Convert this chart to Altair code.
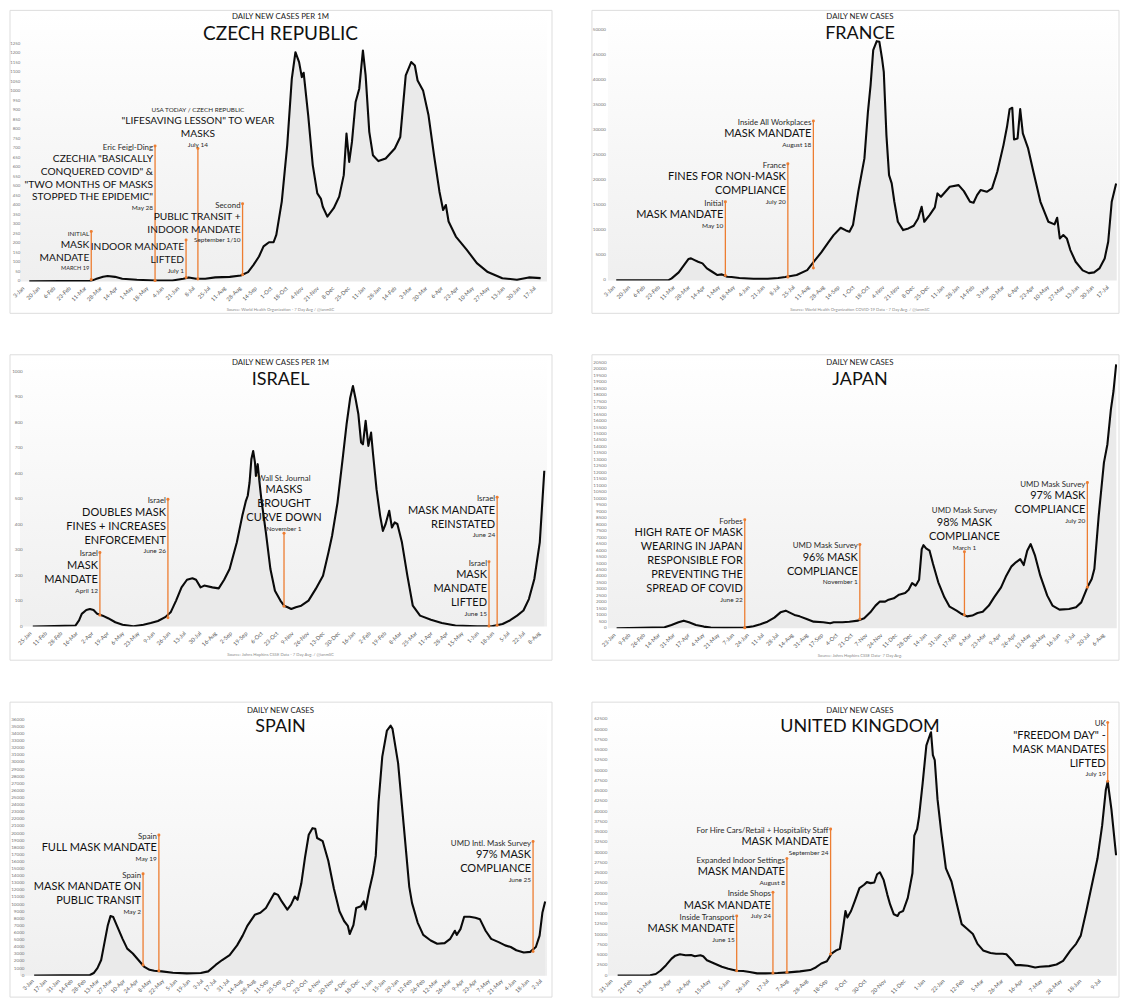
import altair as alt
import pandas as pd

# ------------------------------------------------------------------ data
# Czech Republic - daily new cases per 1M (7 day avg)
cz_dates = ["2020-01-11","2020-03-19","2020-03-24","2020-04-01","2020-04-06","2020-04-14","2020-04-22","2020-05-08","2020-05-28","2020-06-16",
            "2020-06-28","2020-07-04","2020-07-12","2020-07-22","2020-08-02","2020-08-18","2020-08-30","2020-09-07","2020-09-13","2020-09-19",
            "2020-09-24","2020-09-30","2020-10-05","2020-10-08","2020-10-14","2020-10-20","2020-10-25","2020-10-29","2020-11-02","2020-11-05",
            "2020-11-07","2020-11-12","2020-11-17","2020-11-22","2020-11-26","2020-11-28","2020-12-03","2020-12-10","2020-12-16","2020-12-21",
            "2020-12-24","2020-12-27","2020-12-30","2021-01-03","2021-01-07","2021-01-11","2021-01-14","2021-01-18","2021-01-22","2021-01-28",
            "2021-02-05","2021-02-15","2021-02-21","2021-02-27","2021-03-05","2021-03-09","2021-03-12","2021-03-18","2021-03-24","2021-03-30",
            "2021-04-05","2021-04-09","2021-04-12","2021-04-15","2021-04-23","2021-05-05","2021-05-16","2021-05-28","2021-06-13","2021-06-29",
            "2021-07-12","2021-07-25"]
cz_cases = [0,3,12,24,28,24,14,9,5,5,
            14,21,14,14,21,24,31,49,87,131,
            184,206,206,245,420,717,1066,1206,1154,1075,
            1098,874,612,463,434,393,341,385,446,559,
            778,629,734,944,1014,1215,1084,787,664,633,
            647,699,760,1084,1154,1136,1057,1005,874,664,
            472,376,402,315,236,166,96,49,17,9,
            21,17]

# France - daily new cases (7 day avg)
fr_dates = ["2020-01-07","2020-03-06","2020-03-10","2020-03-18","2020-03-24","2020-03-29","2020-04-01","2020-04-05","2020-04-09","2020-04-14",
            "2020-04-19","2020-04-25","2020-05-01","2020-05-06","2020-05-12","2020-05-17","2020-05-26","2020-06-11","2020-06-27","2020-07-09",
            "2020-07-17","2020-07-30","2020-08-11","2020-08-19","2020-08-27","2020-09-04","2020-09-10","2020-09-18","2020-09-24","2020-09-28",
            "2020-10-02","2020-10-08","2020-10-15","2020-10-19","2020-10-22","2020-10-25","2020-10-29","2020-11-01","2020-11-04","2020-11-06",
            "2020-11-09","2020-11-12","2020-11-15","2020-11-18","2020-11-22","2020-11-28","2020-12-04","2020-12-10","2020-12-15","2020-12-19",
            "2020-12-22","2020-12-28","2021-01-03","2021-01-06","2021-01-10","2021-01-20","2021-01-30","2021-02-05","2021-02-12","2021-02-16",
            "2021-02-20","2021-02-24","2021-03-03","2021-03-09","2021-03-15","2021-03-22","2021-03-26","2021-03-29","2021-04-01","2021-04-03",
            "2021-04-07","2021-04-10","2021-04-13","2021-04-19","2021-04-25","2021-05-03","2021-05-09","2021-05-12","2021-05-19","2021-05-22",
            "2021-05-25","2021-05-29","2021-06-02","2021-06-06","2021-06-12","2021-06-20","2021-06-27","2021-07-03","2021-07-09","2021-07-15",
            "2021-07-19","2021-07-23","2021-07-28"]
fr_cases = [0,0,400,1600,3060,4260,4400,4060,3730,3400,
            2400,1730,1070,1200,730,670,470,330,330,470,
            670,1070,2060,3860,5590,7590,9050,10520,9990,9720,
            11050,17710,24370,33690,39020,46010,47800,47670,44340,41680,
            29030,21040,19380,15710,11720,10050,10390,10920,12380,14710,
            11720,13050,14580,17380,16710,18710,19040,17840,15710,15510,
            17040,18040,17710,18380,21710,27030,30690,34220,34490,28160,
            28360,34220,29360,26360,21710,15710,13050,11720,11190,12520,
            8390,9050,8390,6060,3730,2000,1460,1600,2400,4390,
            7720,15710,19380]

# Israel - daily new cases per 1M (7 day avg)
il_dates = ["2020-01-29","2020-03-16","2020-03-20","2020-03-23","2020-03-28","2020-04-01","2020-04-05","2020-04-09","2020-04-15","2020-04-21",
            "2020-04-29","2020-05-07","2020-05-19","2020-05-30","2020-06-07","2020-06-15","2020-06-23","2020-06-29","2020-07-05","2020-07-11",
            "2020-07-17","2020-07-23","2020-07-27","2020-08-01","2020-08-05","2020-08-14","2020-08-21","2020-08-27","2020-09-02","2020-09-10",
            "2020-09-16","2020-09-20","2020-09-22","2020-09-24","2020-09-26","2020-09-28","2020-09-30","2020-10-01","2020-10-03","2020-10-05",
            "2020-10-07","2020-10-12","2020-10-17","2020-10-22","2020-10-28","2020-11-01","2020-11-05","2020-11-09","2020-11-14","2020-11-20",
            "2020-11-28","2020-12-06","2020-12-14","2020-12-20","2020-12-24","2020-12-30","2021-01-05","2021-01-09","2021-01-13","2021-01-16",
            "2021-01-19","2021-01-22","2021-01-25","2021-01-27","2021-01-30","2021-02-02","2021-02-05","2021-02-07","2021-02-11","2021-02-15",
            "2021-02-18","2021-02-21","2021-02-25","2021-02-28","2021-03-03","2021-03-06","2021-03-11","2021-03-17","2021-03-23","2021-03-31",
            "2021-04-12","2021-04-24","2021-05-09","2021-06-02","2021-06-18","2021-06-30","2021-07-08","2021-07-16","2021-07-23","2021-07-29",
            "2021-08-04","2021-08-10","2021-08-15"]
il_cases = [0,4,24,50,65,69,65,50,43,33,
            17,7,1,7,14,22,37,56,102,154,
            184,190,184,154,161,154,150,184,226,331,
            435,494,514,566,657,690,644,592,638,566,
            500,370,226,141,102,82,76,69,76,82,
            102,148,200,291,357,487,670,795,899,945,
            893,834,723,716,808,710,762,684,540,435,
            376,403,455,389,409,403,331,200,82,43,
            27,14,4,1,1,10,24,43,63,108,
            187,331,612]

# Japan - daily new cases (7 day avg)
jp_dates = ["2020-01-27","2020-03-22","2020-03-30","2020-04-07","2020-04-13","2020-04-19","2020-04-27","2020-05-06","2020-05-14","2020-05-30",
            "2020-06-22","2020-07-02","2020-07-10","2020-07-18","2020-07-26","2020-08-02","2020-08-08","2020-08-12","2020-08-18","2020-08-24",
            "2020-09-01","2020-09-09","2020-09-20","2020-09-28","2020-10-02","2020-10-12","2020-10-20","2020-10-30","2020-11-06","2020-11-13",
            "2020-11-19","2020-11-24","2020-11-30","2020-12-04","2020-12-10","2020-12-16","2020-12-23","2020-12-27","2020-12-31","2021-01-04",
            "2021-01-08","2021-01-11","2021-01-13","2021-01-16","2021-01-20","2021-01-24","2021-01-30","2021-02-06","2021-02-12","2021-02-20",
            "2021-02-26","2021-03-04","2021-03-10","2021-03-16","2021-03-22","2021-03-29","2021-04-04","2021-04-12","2021-04-18","2021-04-24",
            "2021-04-29","2021-05-04","2021-05-08","2021-05-12","2021-05-16","2021-05-21","2021-05-27","2021-06-04","2021-06-10","2021-06-18",
            "2021-06-29","2021-07-07","2021-07-13","2021-07-20","2021-07-25","2021-07-28","2021-08-02","2021-08-08","2021-08-12","2021-08-16",
            "2021-08-19","2021-08-22"]
jp_cases = [0,80,260,460,590,460,260,130,50,30,
            50,150,310,510,820,1230,1360,1230,1030,920,
            720,510,460,390,460,460,510,590,770,1230,
            1750,2060,2060,2210,2310,2590,2720,2980,3490,3290,
            3750,6110,6420,6170,5990,4960,3550,2390,1670,1360,
            1100,920,980,1180,1280,1750,2390,3160,4060,4780,
            5090,5340,4880,5990,6500,5600,4060,2520,1750,1440,
            1490,1620,2000,3160,3800,4570,8680,12790,14210,16900,
            18320,20370]

# Spain - daily new cases (7 day avg)
es_dates = ["2020-01-06","2020-03-06","2020-03-10","2020-03-14","2020-03-18","2020-03-21","2020-03-25","2020-03-28","2020-03-31","2020-04-04",
            "2020-04-10","2020-04-15","2020-04-21","2020-04-27","2020-05-03","2020-05-09","2020-05-14","2020-05-22","2020-06-03","2020-06-18",
            "2020-07-03","2020-07-11","2020-07-19","2020-07-26","2020-08-03","2020-08-11","2020-08-17","2020-08-22","2020-08-30","2020-09-05",
            "2020-09-11","2020-09-16","2020-09-20","2020-09-24","2020-09-28","2020-10-04","2020-10-08","2020-10-12","2020-10-15","2020-10-19",
            "2020-10-23","2020-10-27","2020-10-31","2020-11-03","2020-11-05","2020-11-11","2020-11-17","2020-11-23","2020-11-29","2020-12-04",
            "2020-12-08","2020-12-10","2020-12-14","2020-12-17","2020-12-22","2020-12-25","2020-12-27","2020-12-31","2021-01-04","2021-01-07",
            "2021-01-10","2021-01-14","2021-01-19","2021-01-23","2021-01-25","2021-01-31","2021-02-06","2021-02-12","2021-02-15","2021-02-21",
            "2021-02-27","2021-03-07","2021-03-14","2021-03-22","2021-03-28","2021-04-02","2021-04-04","2021-04-08","2021-04-12","2021-04-18",
            "2021-04-24","2021-04-29","2021-05-05","2021-05-11","2021-05-19","2021-05-26","2021-06-01","2021-06-07","2021-06-15","2021-06-22",
            "2021-06-28","2021-07-02","2021-07-05","2021-07-08"]
es_cases = [0,90,370,1050,2200,4260,7010,8380,8240,7010,
            5180,3800,3110,2200,1280,820,690,600,410,320,
            370,600,1510,2200,2890,4260,5630,7010,8560,8840,
            9530,10670,11590,11360,10440,9300,9990,11130,10670,12960,
            16630,19830,20750,20660,19370,18920,16170,12270,9070,7690,
            7010,5860,7100,9530,9760,10440,9300,12050,14340,16850,
            24410,30820,34490,35170,34720,29910,21210,12500,10210,7470,
            5730,4950,4490,4580,5180,6320,5730,6550,8290,8290,
            8150,7920,6320,5180,4720,4260,4030,3570,3250,3340,
            4030,5630,8840,10440]

# United Kingdom - daily new cases (7 day avg)
uk_dates = ["2020-02-08","2020-03-14","2020-03-20","2020-03-25","2020-03-31","2020-04-06","2020-04-10","2020-04-15","2020-04-21","2020-04-27",
            "2020-05-01","2020-05-07","2020-05-10","2020-05-14","2020-05-22","2020-05-30","2020-06-06","2020-06-15","2020-06-22","2020-06-29",
            "2020-07-07","2020-07-16","2020-07-29","2020-08-10","2020-08-22","2020-09-02","2020-09-08","2020-09-14","2020-09-20","2020-09-25",
            "2020-09-30","2020-10-04","2020-10-07","2020-10-10","2020-10-12","2020-10-16","2020-10-20","2020-10-25","2020-10-30","2020-11-02",
            "2020-11-06","2020-11-10","2020-11-13","2020-11-16","2020-11-20","2020-11-24","2020-11-27","2020-12-01","2020-12-05","2020-12-07",
            "2020-12-11","2020-12-16","2020-12-21","2020-12-23","2020-12-26","2020-12-28","2021-01-01","2021-01-05","2021-01-09","2021-01-10",
            "2021-01-12","2021-01-14","2021-01-17","2021-01-21","2021-01-26","2021-02-01","2021-02-06","2021-02-12","2021-02-18","2021-02-24",
            "2021-03-01","2021-03-07","2021-03-15","2021-03-21","2021-03-28","2021-04-01","2021-04-07","2021-04-11","2021-04-16","2021-04-24",
            "2021-05-02","2021-05-07","2021-05-17","2021-05-25","2021-06-01","2021-06-09","2021-06-15","2021-06-20","2021-06-26","2021-07-02",
            "2021-07-08","2021-07-13","2021-07-17","2021-07-19","2021-07-23","2021-07-28"]
uk_cases = [0,80,400,1200,2560,4160,4880,5200,4960,5040,
            4720,4960,4720,3760,2960,2160,1680,1200,1120,880,
            560,560,640,800,1040,1360,2000,2960,3520,5360,
            6160,6560,10960,15770,14170,15770,18170,21370,22170,22810,
            22570,22730,24730,25210,23370,19770,17370,14970,14570,15370,
            15770,18970,24970,34170,35770,38570,46980,56180,58820,59380,
            53780,52580,42980,34970,26170,22970,18170,12560,11360,10160,
            7760,6160,5520,5360,5360,5200,3760,2560,2560,2400,
            2000,2160,2320,2720,3600,6160,7760,9760,15770,22170,
            28570,36570,45380,47380,40580,29370]

# ------------------------------------------------------------ annotations
cz_ann_dates = ["2020-03-19", "2020-05-28", "2020-07-01", "2020-07-14", "2020-09-01"]
cz_ann_base = [10, 5, 20, 12, 35]
cz_ann_top = [262, 713, 218, 699, 409]
cz_ann_source = ["INITIAL", "Eric Feigl-Ding", "", "USA TODAY / CZECH REPUBLIC", "Second"]
cz_ann_text = [["MASK", "MANDATE"],
               ['CZECHIA "BASICALLY', 'CONQUERED COVID" &', '"TWO MONTHS OF MASKS', 'STOPPED THE EPIDEMIC"'],
               ["INDOOR MANDATE", "LIFTED"],
               ['"LIFESAVING LESSON" TO WEAR', "MASKS"],
               ["PUBLIC TRANSIT +", "INDOOR MANDATE"]]
cz_ann_note = ["MARCH 19", "May 28", "July 1", "July 14", "September 1/10"]
cz_ann_align = ["right", "right", "right", "center", "right"]

fr_ann_dates = ["2020-05-10", "2020-07-20", "2020-08-18"]
fr_ann_base = [1000, 700, 2500]
fr_ann_top = [15710, 23300, 31830]
fr_ann_source = ["Initial", "France", "Inside All Workplaces"]
fr_ann_text = [["MASK MANDATE"], ["FINES FOR NON-MASK", "COMPLIANCE"], ["MASK MANDATE"]]
fr_ann_note = ["May 10", "July 20", "August 18"]
fr_ann_align = ["right", "right", "right"]

il_ann_dates = ["2020-04-12", "2020-06-26", "2020-11-01", "2021-06-15", "2021-06-24"]
il_ann_base = [45, 35, 80, 2, 5]
il_ann_top = [291, 500, 367, 255, 508]
il_ann_source = ["Israel", "Israel", "Wall St. Journal", "Israel", "Israel"]
il_ann_text = [["MASK", "MANDATE"],
               ["DOUBLES MASK", "FINES + INCREASES", "ENFORCEMENT"],
               ["MASKS", "BROUGHT", "CURVE DOWN"],
               ["MASK", "MANDATE", "LIFTED"],
               ["MASK MANDATE", "REINSTATED"]]
il_ann_note = ["April 12", "June 26", "November 1", "June 15", "June 24"]
il_ann_align = ["right", "right", "center", "right", "right"]

jp_ann_dates = ["2020-06-22", "2020-11-01", "2021-03-01", "2021-07-20"]
jp_ann_base = [50, 720, 1030, 3160]
jp_ann_top = [8380, 6470, 5910, 11250]
jp_ann_source = ["Forbes", "UMD Mask Survey", "UMD Mask Survey", "UMD Mask Survey"]
jp_ann_text = [["HIGH RATE OF MASK", "WEARING IN JAPAN", "RESPONSIBLE FOR", "PREVENTING THE", "SPREAD OF COVID"],
               ["96% MASK", "COMPLIANCE"],
               ["98% MASK", "COMPLIANCE"],
               ["97% MASK", "COMPLIANCE"]]
jp_ann_note = ["June 22", "November 1", "March 1", "July 20"]
jp_ann_align = ["right", "right", "center", "right"]

es_ann_dates = ["2020-05-02", "2020-05-19", "2021-06-25"]
es_ann_base = [1500, 700, 3400]
es_ann_top = [14340, 19790, 18870]
es_ann_source = ["Spain", "Spain", "UMD Intl. Mask Survey"]
es_ann_text = [["MASK MANDATE ON", "PUBLIC TRANSIT"], ["FULL MASK MANDATE"], ["97% MASK", "COMPLIANCE"]]
es_ann_note = ["May 2", "May 19", "June 25"]
es_ann_align = ["right", "right", "right"]

uk_ann_dates = ["2020-06-15", "2020-07-24", "2020-08-08", "2020-09-24", "2021-07-19"]
uk_ann_base = [1200, 640, 800, 5300, 47400]
uk_ann_top = [14570, 20330, 28570, 35770, 61780]
uk_ann_source = ["Inside Transport", "Inside Shops", "Expanded Indoor Settings",
                 "For Hire Cars/Retail + Hospitality Staff", "UK"]
uk_ann_text = [["MASK MANDATE"], ["MASK MANDATE"], ["MASK MANDATE"], ["MASK MANDATE"],
               ['"FREEDOM DAY" -', "MASK MANDATES", "LIFTED"]]
uk_ann_note = ["June 15", "July 24", "August 8", "September 24", "July 19"]
uk_ann_align = ["right", "right", "right", "right", "right"]

# ------------------------------------------------------------ panel setup
panels = {
    "cz": dict(sub="DAILY NEW CASES PER 1M", title="CZECH REPUBLIC",
               source="Source: World Health Organization - 7 Day Avg / @ianmSC",
               dates=cz_dates, vals=cz_cases, t0="2020-01-03", step=17, nticks=34, ymax=1250, ystep=50,
               ann=(cz_ann_dates, cz_ann_base, cz_ann_top, cz_ann_source, cz_ann_text, cz_ann_note, cz_ann_align)),
    "fr": dict(sub="DAILY NEW CASES", title="FRANCE",
               source="Source: World Health Organization COVID-19 Data - 7 Day Avg. / @ianmSC",
               dates=fr_dates, vals=fr_cases, t0="2020-01-03", step=17, nticks=34, ymax=50000, ystep=5000,
               ann=(fr_ann_dates, fr_ann_base, fr_ann_top, fr_ann_source, fr_ann_text, fr_ann_note, fr_ann_align)),
    "il": dict(sub="DAILY NEW CASES PER 1M", title="ISRAEL",
               source="Source: Johns Hopkins CSSE Data - 7 Day Avg. / @ianmSC",
               dates=il_dates, vals=il_cases, t0="2020-01-25", step=17, nticks=34, ymax=1000, ystep=100,
               ann=(il_ann_dates, il_ann_base, il_ann_top, il_ann_source, il_ann_text, il_ann_note, il_ann_align)),
    "jp": dict(sub="DAILY NEW CASES", title="JAPAN",
               source="Source: Johns Hopkins CSSE Data- 7 Day Avg.",
               dates=jp_dates, vals=jp_cases, t0="2020-01-23", step=17, nticks=34, ymax=20500, ystep=500,
               ann=(jp_ann_dates, jp_ann_base, jp_ann_top, jp_ann_source, jp_ann_text, jp_ann_note, jp_ann_align)),
    "es": dict(sub="DAILY NEW CASES", title="SPAIN", source=None,
               dates=es_dates, vals=es_cases, t0="2020-01-03", step=14, nticks=40, ymax=36000, ystep=1000,
               ann=(es_ann_dates, es_ann_base, es_ann_top, es_ann_source, es_ann_text, es_ann_note, es_ann_align)),
    "uk": dict(sub="DAILY NEW CASES", title="UNITED KINGDOM", source=None,
               dates=uk_dates, vals=uk_cases, t0="2020-01-31", step=21, nticks=26, ymax=62500, ystep=2500,
               ann=(uk_ann_dates, uk_ann_base, uk_ann_top, uk_ann_source, uk_ann_text, uk_ann_note, uk_ann_align)),
}

# ------------------------------------------------------------ layout (page pixels)
COLS = {
    "left": dict(box=9.5, box_w=543.0, pl=19.5, pr=547.5, cx=280.5),
    "right": dict(box=591.5, box_w=528.0, pl=607.5, pr=1117.5, cx=860.0),
}
geo = {
    "cz": dict(col="left", x_t0=21.5, t_end="2021-08-01", T=2.5, H=269.0, B=32.0, ppu=0.1904, ylab=0.2, yfs=4.3,
               big=10.2, lh=12.8, tfs=19, sub_y=4.0, ttl_y=20.7, src_y=28.5, xpad=4.5),
    "fr": dict(col="right", x_t0=612.3, t_end="2021-07-29", T=2.5, H=268.0, B=33.0, ppu=0.005014, ylab=-1.9, yfs=4.6,
               big=11.0, lh=14.0, tfs=18, sub_y=4.0, ttl_y=20.7, src_y=30.0, xpad=4.5),
    "il": dict(col="left", x_t0=28.7, t_end="2021-08-18", T=2.5, H=269.8, B=33.7, ppu=0.255, ylab=2.8, yfs=4.6,
               big=11.0, lh=14.0, tfs=18, sub_y=6.2, ttl_y=23.0, src_y=28.7, xpad=4.5),
    "jp": dict(col="right", x_t0=612.7, t_end="2021-08-23", T=2.5, H=271.5, B=32.0, ppu=0.012976, ylab=-1.3, yfs=4.6,
               big=11.0, lh=14.0, tfs=18, sub_y=6.2, ttl_y=23.0, src_y=28.0, xpad=4.5),
    "es": dict(col="left", x_t0=30.9, t_end="2021-07-10", T=2.5, H=271.5, B=21.5, ppu=0.00712, ylab=4.5, yfs=4.6,
               big=11.0, lh=14.0, tfs=18, sub_y=6.2, ttl_y=22.8, src_y=None, xpad=3.0),
    "uk": dict(col="right", x_t0=609.8, t_end="2021-07-29", T=2.5, H=271.5, B=21.5, ppu=0.004107, ylab=-0.5, yfs=4.6,
               big=11.0, lh=14.0, tfs=18, sub_y=6.2, ttl_y=22.8, src_y=None, xpad=3.0),
}

FONT = "Lato"
ORANGE = "#ED7D31"


def ms(d):
    return pd.Timestamp(d).tz_localize("UTC").value / 1_000_000


def text_rows(p, g):
    s = g["ppu"]
    big, lh = g["big"], g["lh"]
    dates, bases, tops, srcs, lines, notes, aligns = p["ann"]
    rows = []
    for d, top, src, ls, note, al in zip(dates, tops, srcs, lines, notes, aligns):
        n = len(ls)
        src_fs = 6.4 if (src.isupper() and len(src) > 3) else 7.9
        note_fs = 5.6 if note.isupper() else 6.5
        if al == "right":
            first = 13.3 if src else 7.5
            offs = [first + i * lh for i in range(n)]
            off_src = 2.0
            off_note = offs[-1] + 10.8
        else:
            off_note = -4.0
            offs = [off_note - 10.8 - (n - 1 - i) * lh for i in range(n)]
            off_src = offs[0] - 11.5
        if src:
            rows.append(dict(date=d, y=top - off_src / s, t=src, fs=src_fs, col="#2b2b2b", al=al))
        for t, o in zip(ls, offs):
            rows.append(dict(date=d, y=top - o / s, t=t, fs=big, col="#111111", al=al))
        rows.append(dict(date=d, y=top - off_note / s, t=note, fs=note_fs, col="#2b2b2b", al=al))
    return pd.DataFrame(rows)


def build(key):
    p, g = panels[key], geo[key]
    c = COLS[g["col"]]
    PL, PR = c["pl"], c["pr"]
    W, H, T, B = PR - PL, g["H"], g["T"], g["B"]
    L = PL - c["box"]
    R = c["box"] + c["box_w"] - PR
    dmax = H / g["ppu"]
    t0, te = ms(p["t0"]), ms(g["t_end"])
    slope = (te - t0) / (PR - g["x_t0"])
    xs = alt.Scale(type="utc", domain=[t0 - (g["x_t0"] - PL) * slope, te])
    ys = alt.Scale(domain=[0, dmax], nice=False, zero=False)

    X = lambda f: alt.X(f, type="temporal", scale=xs, axis=None)
    Y = lambda f: alt.Y(f, type="quantitative", scale=ys, axis=None)

    df = pd.DataFrame({"date": p["dates"], "v": p["vals"]})
    one = pd.DataFrame({"k": [0]})

    box = alt.Chart(one).mark_rect(fill="white", stroke="#dddddd", strokeWidth=1).encode(
        x=alt.value(-L), x2=alt.value(W + R), y=alt.value(-T), y2=alt.value(H + B))
    grad = alt.Chart(one).mark_rect(fill=alt.LinearGradient(
        gradient="linear", x1=0, x2=0, y1=0, y2=1,
        stops=[alt.GradientStop(color="#ffffff", offset=0), alt.GradientStop(color="#efefef", offset=1)])
    ).encode(x=alt.value(0), x2=alt.value(W), y=alt.value(0), y2=alt.value(H))
    area = alt.Chart(df).mark_area(color="#eaeaea", clip=True).encode(x=X("date"), y=Y("v"))
    line = alt.Chart(df).mark_line(color="#0a0a0a", strokeWidth=2.1, strokeJoin="round", clip=True).encode(
        x=X("date"), y=Y("v"))

    # axis labels drawn as text through the scales
    ticks = pd.date_range(p["t0"], periods=p["nticks"], freq=f"{p['step']}D")
    xdf = pd.DataFrame({"date": [t.strftime("%Y-%m-%d") for t in ticks],
                        "lab": [f"{t.day}-{t.strftime('%b')}" for t in ticks]})
    xlab = alt.Chart(xdf).mark_text(angle=315, align="right", baseline="top", fontSize=5.6,
                                    color="#555555", font=FONT).encode(
        x=X("date"), y=alt.value(H + g["xpad"]), text="lab:N")
    yvals = list(range(0, p["ymax"] + 1, p["ystep"]))
    ydf = pd.DataFrame({"v": yvals, "lab": [str(v) for v in yvals]})
    ylab = alt.Chart(ydf).mark_text(align="right", baseline="middle", fontSize=g["yfs"],
                                    color="#777777", font=FONT).encode(
        x=alt.value(g["ylab"]), y=Y("v"), text="lab:N")

    dates, bases, tops, *_ = p["ann"]
    adf = pd.DataFrame({"date": dates, "base": bases, "top": tops})
    rules = alt.Chart(adf).mark_rule(color=ORANGE, strokeWidth=1.3).encode(
        x=X("date"), y=Y("base"), y2="top:Q")
    ptop = alt.Chart(adf).mark_point(filled=True, color=ORANGE, size=9, opacity=1).encode(
        x=X("date"), y=Y("top"))
    pbot = alt.Chart(adf).mark_point(filled=True, color=ORANGE, size=9, opacity=1).encode(
        x=X("date"), y=Y("base"))

    layers = [box, grad, area, line, xlab, ylab, rules, ptop, pbot]
    tdf = text_rows(p, g)
    for al, dx in (("right", -2), ("center", 0)):
        sub = tdf[tdf["al"] == al]
        if len(sub):
            layers.append(alt.Chart(sub).mark_text(align=al, baseline="middle", dx=dx, font=FONT).encode(
                x=X("date"), y=Y("y"), text="t:N",
                size=alt.Size("fs:Q", scale=None), color=alt.Color("col:N", scale=None)))

    cx = c["cx"] - PL
    layers.append(alt.Chart(one).mark_text(text=p["sub"], fontSize=7.85, color="#222222", font=FONT,
                                           align="center", baseline="middle").encode(
        x=alt.value(cx), y=alt.value(g["sub_y"])))
    layers.append(alt.Chart(one).mark_text(text=p["title"], fontSize=g["tfs"], color="#111111", font=FONT,
                                           align="center", baseline="middle").encode(
        x=alt.value(cx), y=alt.value(g["ttl_y"])))
    if p["source"]:
        layers.append(alt.Chart(one).mark_text(text=p["source"], fontSize=4.2, color="#8a8a8a", font=FONT,
                                               align="center", baseline="middle").encode(
            x=alt.value(cx), y=alt.value(H + g["src_y"])))
    return alt.layer(*layers).properties(width=W, height=H)


chart = alt.vconcat(
    alt.hconcat(build("cz"), build("fr"), spacing=38),
    alt.hconcat(build("il"), build("jp"), spacing=38),
    alt.hconcat(build("es"), build("uk"), spacing=38),
    spacing=39,
).properties(
    padding={"left": 1, "top": 0, "right": 0, "bottom": 0}
).configure(
    font=FONT, background="white", view=alt.ViewConfig(stroke="transparent")
)

chart.save("out.html", embed_options={"renderer": "svg", "actions": False})
